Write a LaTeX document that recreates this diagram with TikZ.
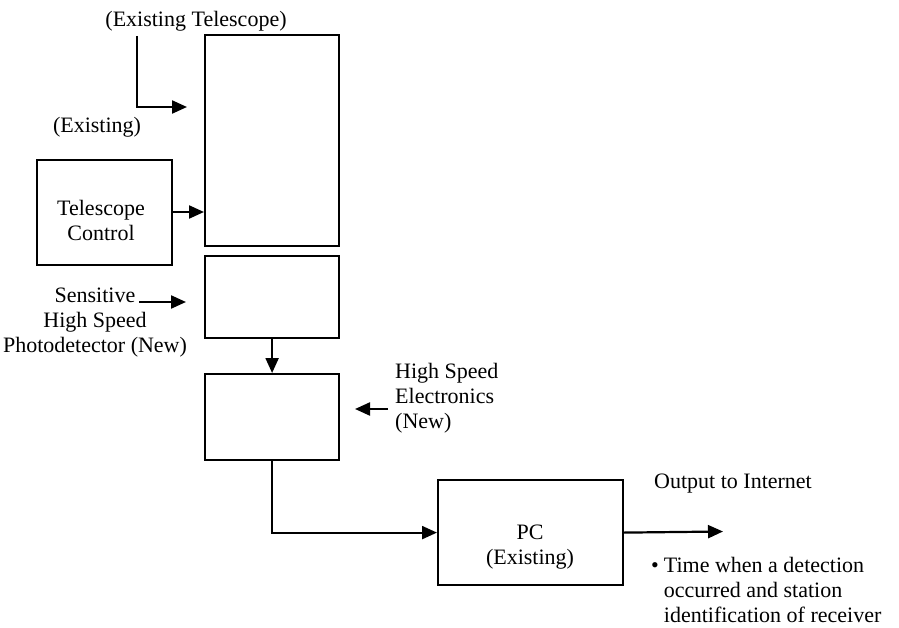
\documentclass[tikz,border=0pt]{standalone}
\usepackage{fontspec}
\setmainfont{Liberation Serif}
\usetikzlibrary{arrows.meta}
\begin{document}
\begin{tikzpicture}[x=1pt,y=-1pt,
  box/.style={draw, line width=2.2pt, anchor=north west, inner sep=0pt},
  lbl/.style={font=\fontsize{22}{25}\selectfont, inner sep=0pt, anchor=base},
  conn/.style={line width=2.2pt, -{Triangle[length=15pt,width=13pt]}},
  link/.style={line width=2.2pt}]
\useasboundingbox (0,0) rectangle (899,628);
% boxes
\node[box, minimum width=134pt, minimum height=211pt] (scope) at (204,34) {};
\node[box, minimum width=134pt, minimum height=82pt] (pd) at (204,255) {};
\node[box, minimum width=134pt, minimum height=86pt] (el) at (204,373) {};
\node[box, minimum width=135pt, minimum height=105pt] (tc) at (36,159) {};
\node[box, minimum width=185pt, minimum height=105pt] (pc) at (437,479) {};
% labels (base anchor of a multi-line node = baseline of its last line)
\node[lbl] (etl) at (196,27) {(Existing Telescope)};
\node[lbl] (exl) at (97,133) {(Existing)};
\node[lbl, align=center] (tcl) at (101,241) {Telescope\\Control};
\node[lbl, align=center] (pdl) at (95,352) {Sensitive\\High Speed\\Photodetector (New)};
\node[lbl, align=left, anchor=base west] (ell) at (395,428) {High Speed\\Electronics\\(New)};
\node[lbl, align=center] (pcl) at (530,564) {PC\\(Existing)};
\node[lbl, anchor=base west] (outl) at (654,488) {Output to Internet};
\node[lbl, anchor=base west] (bul) at (651,572) {\begin{tabular}[t]{@{}l@{\hspace{5pt}}l@{}}\textbullet & Time when a detection\\ & occurred and station\\ & identification of receiver\end{tabular}};
% free ends
\coordinate (ets) at (137,36);
\coordinate (ete) at (187,107);
\coordinate (pds) at (139,302);
\coordinate (pde) at (186,302);
\coordinate (els) at (388,409);
\coordinate (ele) at (355,409);
\coordinate (oute) at (723,531.5);
% connectors
\draw[conn] (ets) |- (ete);
\draw[conn] (tc.east |- 0,212) -- (scope.west |- 0,212);
\draw[conn] (pds) -- (pde);
\draw[conn] (pd.south) -- (el.north);
\draw[conn] (els) -- (ele);
\draw[conn] (el.south) |- (pc.west);
\draw[conn] (pc.east) -- (oute);
\end{tikzpicture}
\end{document}
